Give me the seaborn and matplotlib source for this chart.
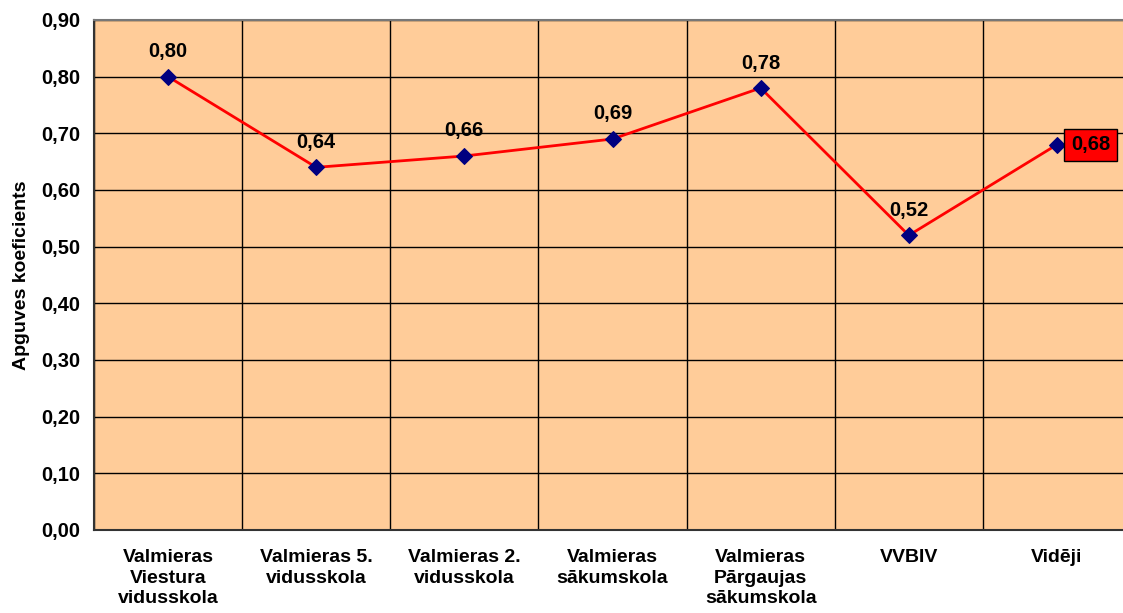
import matplotlib
matplotlib.use("Agg")
import matplotlib.pyplot as plt
import pandas as pd
import seaborn as sns

schools = ["Valmieras\nViestura\nvidusskola", "Valmieras 5.\nvidusskola",
           "Valmieras 2.\nvidusskola", "Valmieras\nsākumskola",
           "Valmieras\nPārgaujas\nsākumskola", "VVBIV", "Vidēji"]
coef = [0.80, 0.64, 0.66, 0.69, 0.78, 0.52, 0.68]
yticks = [0.0, 0.1, 0.2, 0.3, 0.4, 0.5, 0.6, 0.7, 0.8, 0.9]

df = pd.DataFrame({"school": schools, "coef": coef})
df["pos"] = range(len(df))

sns.set_style("white")
plt.rcParams["font.family"] = ["Liberation Sans", "DejaVu Sans"]
plt.rcParams["font.weight"] = "bold"
plt.rcParams["text.color"] = "black"
plt.rcParams["axes.labelcolor"] = "black"
plt.rcParams["xtick.color"] = "black"
plt.rcParams["ytick.color"] = "black"

fig = plt.figure(figsize=(11.23, 6.13), dpi=100)
# plot area runs past the right edge of the picture, as in the original
ax = fig.add_axes([94 / 1123, 1 - 530 / 613, 1037 / 1123, 510 / 613])
ax.set_facecolor("#FFCC99")

sns.lineplot(data=df, x="pos", y="coef", ax=ax, color="red", linewidth=2,
             marker="D", markersize=8, markerfacecolor="#000080",
             markeredgecolor="#000080", zorder=3)

ax.set_xlim(-0.5, len(df) - 0.5)
ax.set_ylim(0, 0.9)
ax.set_yticks(yticks)
ax.set_yticklabels([f"{v:.2f}".replace(".", ",") for v in yticks],
                   fontsize=14.5, fontweight="bold")
ax.set_xticks(df["pos"])
ax.set_xticklabels(df["school"], fontsize=14, fontweight="bold", linespacing=1.25)
ax.set_xticks([p - 0.5 for p in df["pos"]] + [len(df) - 0.5], minor=True)
ax.tick_params(axis="x", which="major", length=0, pad=14)
ax.tick_params(axis="x", which="minor", length=6, width=1, color="black")
ax.tick_params(axis="y", length=6, width=1, color="black", pad=4)

ax.grid(axis="y", color="black", linewidth=1)
ax.grid(axis="x", which="minor", color="black", linewidth=1)
ax.set_axisbelow(True)
for s in ["left", "bottom"]:
    ax.spines[s].set_color("#333333")
    ax.spines[s].set_linewidth(1.5)
ax.spines["top"].set_color("#777777")
ax.spines["top"].set_linewidth(1.5)
ax.spines["right"].set_visible(False)

ax.set_xlabel("")
ax.set_ylabel("Apguves koeficients", fontsize=14, fontweight="bold", labelpad=8)

for i, (p, v) in enumerate(zip(df["pos"], df["coef"])):
    txt = f"{v:.2f}".replace(".", ",")
    if i == len(df) - 1:
        ax.annotate(txt, (p, v), xytext=(10, 0), textcoords="offset points",
                    ha="left", va="center", fontsize=14.5, fontweight="bold",
                    bbox=dict(boxstyle="square,pad=0.32", facecolor="red",
                              edgecolor="black", linewidth=1))
    else:
        ax.annotate(txt, (p, v), xytext=(0, 18), textcoords="offset points",
                    ha="center", va="center", fontsize=14.5, fontweight="bold")

fig.savefig("out.png", dpi=100)
